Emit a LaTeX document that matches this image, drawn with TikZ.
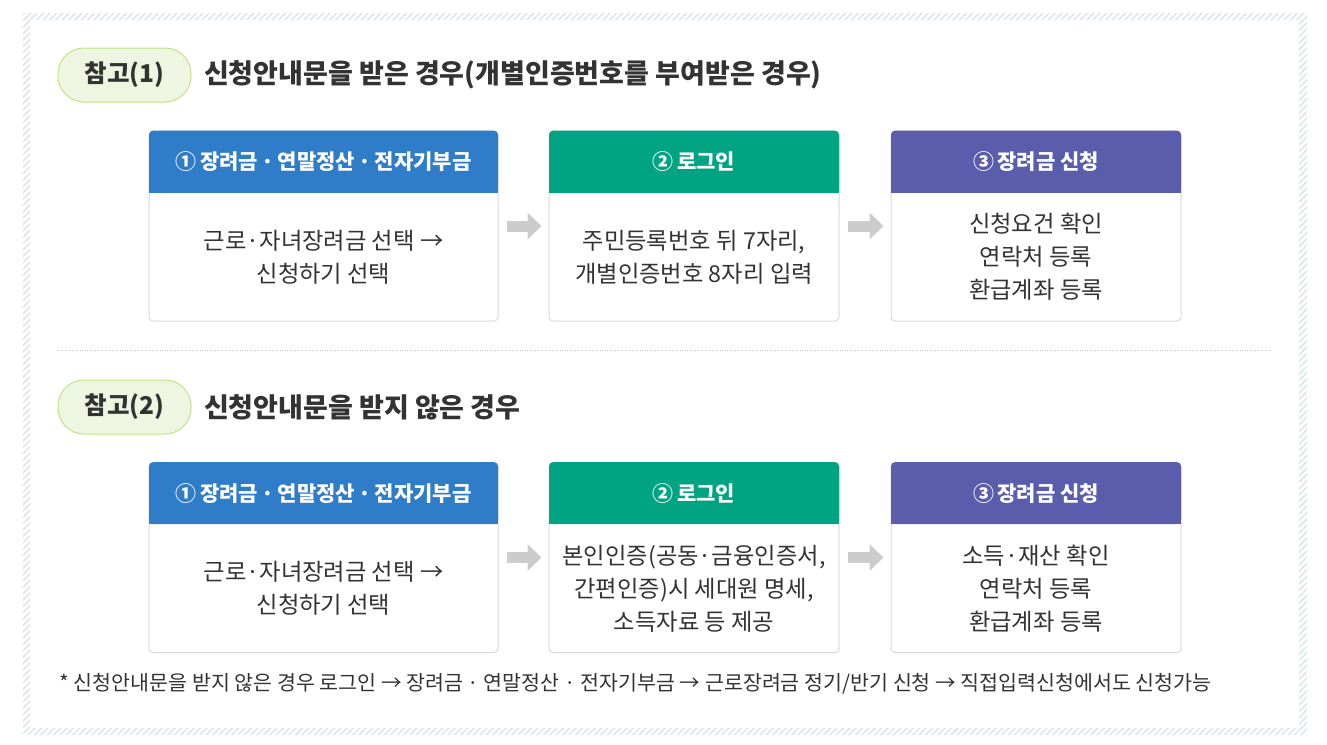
\documentclass[tikz,border=0pt]{standalone}
\usepackage{fontspec}
\setmainfont{Noto Sans CJK KR}
\usetikzlibrary{positioning,patterns.meta,arrows.meta}

\definecolor{hatch}{RGB}{222,228,237}
\definecolor{boxline}{RGB}{218,218,218}
\definecolor{hblue}{RGB}{47,125,200}
\definecolor{hgreen}{RGB}{0,164,130}
\definecolor{hpurple}{RGB}{89,93,172}
\definecolor{arrowgray}{RGB}{204,204,204}
\definecolor{pillfill}{RGB}{238,246,226}
\definecolor{pillline}{RGB}{192,228,133}
\definecolor{textgray}{RGB}{51,51,51}
\definecolor{sepgray}{RGB}{200,200,200}

\begin{document}
\begin{tikzpicture}[x=1pt,y=-1pt,
	box/.style={draw=boxline, line width=1pt, fill=white, rounded corners=4pt, minimum height=190pt, inner sep=0pt},
	head/.style={rounded corners=4pt, minimum height=62pt, inner sep=0pt, anchor=north, text=white, font=\fontsize{21}{24}\selectfont\bfseries},
	body/.style={align=center, text=textgray, font=\fontsize{23.3}{33}\selectfont},
	pill/.style={draw=pillline, line width=1pt, fill=pillfill, rounded corners=26pt, minimum width=133pt, minimum height=54pt, text=textgray, font=\fontsize{24.5}{26}\selectfont\bfseries},
	headline/.style={anchor=west, text=textgray, font=\fontsize{27}{30}\selectfont\bfseries},
	flow/.style={-{Triangle[width=26pt,length=14pt]}, line width=11pt, draw=arrowgray, shorten <=8pt, shorten >=7pt},
	note/.style={anchor=west, text=textgray, font=\fontsize{20.6}{22}\selectfont}
	]
	\useasboundingbox (0,0) rectangle (1327,744);
	
	% hatched frame
	\fill[pattern={Lines[angle=45,distance=4.5pt,line width=1.6pt]}, pattern color=hatch, even odd rule] (23,13) rectangle (1307,735) (30,20) rectangle (1299,728);
	
	%% part 1
	\node[pill] (p1) at (124.5,75) {참고(1)};
	\node[headline, right=9pt of p1] (t1) {신청안내문을 받은 경우(개별인증번호를 부여받은 경우)};
	
	\node[box, minimum width=349pt] (b1) at (323.5,226) {};
	\node[box, minimum width=290pt, right=50pt of b1] (b2) {};
	\node[box, minimum width=290pt, right=51pt of b2] (b3) {};
	
	\node[head, fill=hblue, minimum width=349pt] (h1) at (b1.north) {①\,장려금\,·\,연말정산\,·\,전자기부금};
	\fill[hblue] ([yshift=5pt]h1.south west) rectangle (h1.south east);
	\node[head, fill=hgreen, minimum width=290pt] (h2) at (b2.north) {②\,로그인};
	\fill[hgreen] ([yshift=5pt]h2.south west) rectangle (h2.south east);
	\node[head, fill=hpurple, minimum width=290pt] (h3) at (b3.north) {③\,장려금 신청};
	\fill[hpurple] ([yshift=5pt]h3.south west) rectangle (h3.south east);
	
	\node[body] (c1) at ([yshift=-31pt]b1.center) {근로·자녀장려금 선택 →\\신청하기 선택};
	\node[body] (c2) at ([yshift=-31pt]b2.center) {주민등록번호 뒤 7자리,\\개별인증번호 8자리 입력};
	\node[body] (c3) at ([yshift=-31pt]b3.center) {신청요건 확인\\연락처 등록\\환급계좌 등록};
	
	\draw[flow] (b1) -- (b2);
	\draw[flow] (b2) -- (b3);
	
	% separator
	\coordinate (s1) at (57,350);
	\coordinate (s2) at (1270,350);
	\draw[sepgray, line width=1pt, dash pattern=on 1pt off 1.5pt] (s1) -- (s2);
	
	%% part 2
	\node[pill] (p2) at (124.5,407) {참고(2)};
	\node[headline, right=9pt of p2] (t2) {신청안내문을 받지 않은 경우};
	
	\node[box, minimum width=349pt] (b4) at (323.5,557.5) {};
	\node[box, minimum width=290pt, right=50pt of b4] (b5) {};
	\node[box, minimum width=290pt, right=51pt of b5] (b6) {};
	
	\node[head, fill=hblue, minimum width=349pt] (h4) at (b4.north) {①\,장려금\,·\,연말정산\,·\,전자기부금};
	\fill[hblue] ([yshift=5pt]h4.south west) rectangle (h4.south east);
	\node[head, fill=hgreen, minimum width=290pt] (h5) at (b5.north) {②\,로그인};
	\fill[hgreen] ([yshift=5pt]h5.south west) rectangle (h5.south east);
	\node[head, fill=hpurple, minimum width=290pt] (h6) at (b6.north) {③\,장려금 신청};
	\fill[hpurple] ([yshift=5pt]h6.south west) rectangle (h6.south east);
	
	\node[body] (c4) at ([yshift=-31pt]b4.center) {근로·자녀장려금 선택 →\\신청하기 선택};
	\node[body] (c5) at ([yshift=-31pt]b5.center) {본인인증(공동·금융인증서,\\간편인증)시 세대원 명세,\\소득자료 등 제공};
	\node[body] (c6) at ([yshift=-31pt]b6.center) {소득·재산 확인\\연락처 등록\\환급계좌 등록};
	
	\draw[flow] (b4) -- (b5);
	\draw[flow] (b5) -- (b6);
	
	% footnote
	\node[note] (n1) at (56,684) {* 신청안내문을 받지 않은 경우 로그인 → 장려금 · 연말정산 · 전자기부금 → 근로장려금 정기/반기 신청 → 직접입력신청에서도 신청가능};
\end{tikzpicture}
\end{document}
